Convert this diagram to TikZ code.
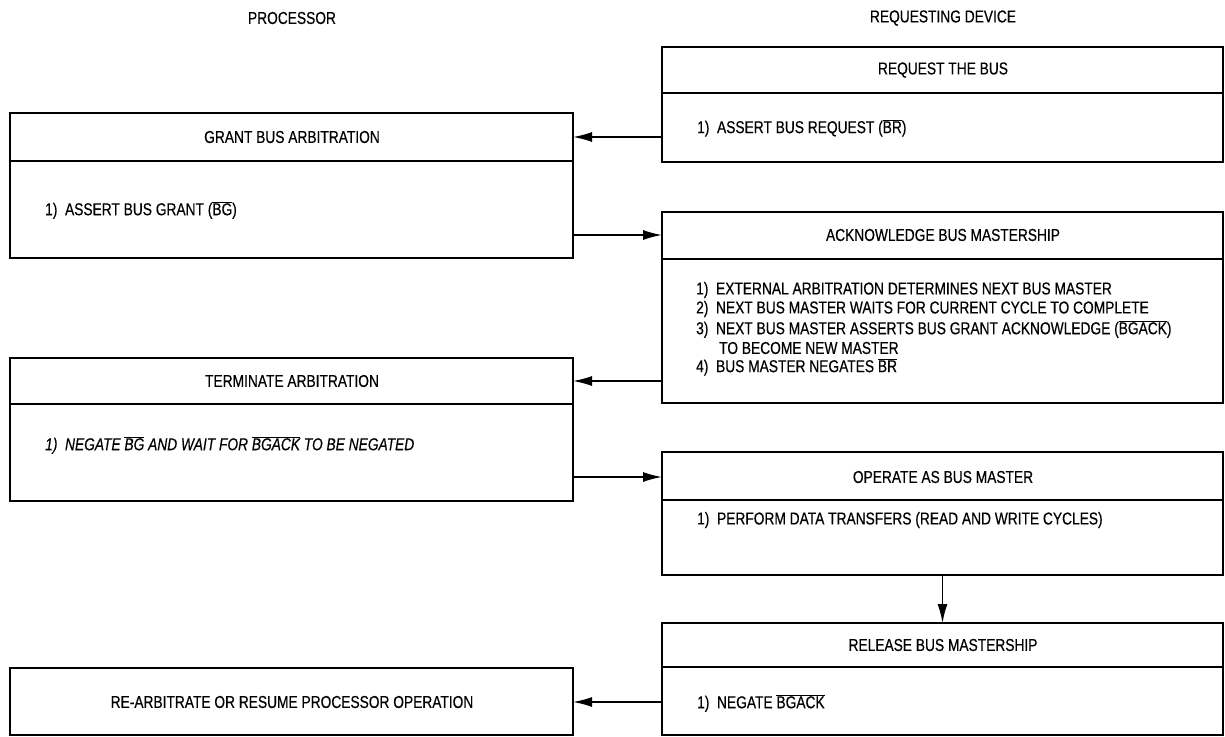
\documentclass[tikz,border=0pt]{standalone}
\usepackage{fontspec}
\setmainfont{Liberation Sans}[FakeStretch=0.8,FakeBold=0.4]
\usetikzlibrary{arrows.meta}
\newcommand{\ovl}[1]{\ensuremath{\overline{\mbox{#1}}}}
\tikzset{
  box/.style={draw, line width=2.6pt, rectangle, inner sep=0pt, outer sep=0pt, anchor=north west},
  divl/.style={line width=2pt},
  arr/.style={line width=1.5pt, -{Latex[length=19pt,width=10pt]}},
  ttl/.style={font=\fontsize{17.2}{20}\selectfont, inner sep=0pt},
  body/.style={font=\fontsize{17.2}{20}\selectfont, inner sep=0pt, anchor=west},
}
\begin{document}
\begin{tikzpicture}[x=1pt,y=-1pt]
\useasboundingbox (0,0) rectangle (1225,736);
% headers
\node[ttl] (hp) at (292,18) {PROCESSOR};
\node[ttl] (hr) at (943,18) {REQUESTING DEVICE};
% boxes
\node[box, minimum width=561pt, minimum height=115pt] (req) at (662,47) {};
\node[box, minimum width=563pt, minimum height=145pt] (grant) at (10,113) {};
\node[box, minimum width=561pt, minimum height=191pt] (ack) at (662,212) {};
\node[box, minimum width=563pt, minimum height=143pt] (term) at (10,358) {};
\node[box, minimum width=561pt, minimum height=123pt] (oper) at (662,452) {};
\node[box, minimum width=561pt, minimum height=112pt] (rel) at (662,623) {};
\node[box, minimum width=563pt, minimum height=67pt] (rearb) at (10,668) {};
% dividers
\draw[divl] (req.west |- 0,93) -- (req.east |- 0,93);
\draw[divl] (grant.west |- 0,161) -- (grant.east |- 0,161);
\draw[divl] (ack.west |- 0,259) -- (ack.east |- 0,259);
\draw[divl] (term.west |- 0,404) -- (term.east |- 0,404);
\draw[divl] (oper.west |- 0,500) -- (oper.east |- 0,500);
\draw[divl] (rel.west |- 0,667) -- (rel.east |- 0,667);
% titles
\node[ttl] (reqT) at (943,70) {REQUEST THE BUS};
\node[ttl] (grantT) at (292,137) {GRANT BUS ARBITRATION};
\node[ttl] (ackT) at (943,235) {ACKNOWLEDGE BUS MASTERSHIP};
\node[ttl] (termT) at (292,381) {TERMINATE ARBITRATION};
\node[ttl] (operT) at (943,477) {OPERATE AS BUS MASTER};
\node[ttl] (relT) at (943,645) {RELEASE BUS MASTERSHIP};
\node[ttl] (rearbT) at (292,702) {RE-ARBITRATE OR RESUME PROCESSOR OPERATION};
% bodies
\node[body] (reqB) at (697,128) {1)\ \ ASSERT BUS REQUEST (\ovl{BR})};
\node[body] (grantB) at (45,210) {1)\ \ ASSERT BUS GRANT (\ovl{BG})};
\node[body] (ack1) at (696,290) {1)\ \ EXTERNAL ARBITRATION DETERMINES NEXT BUS MASTER};
\node[body] (ack2) at (696,309) {2)\ \ NEXT BUS MASTER WAITS FOR CURRENT CYCLE TO COMPLETE};
\node[body] (ack3) at (696,329) {3)\ \ NEXT BUS MASTER ASSERTS BUS GRANT ACKNOWLEDGE (\ovl{BGACK})};
\node[body] (ack4) at (719,348) {TO BECOME NEW MASTER};
\node[body] (ack5) at (696,367) {4)\ \ BUS MASTER NEGATES \ovl{BR}};
\node[body, font=\fontsize{17.2}{20}\selectfont\itshape] (termB) at (45,445) {1)\ \ NEGATE \ovl{BG} AND WAIT FOR \ovl{BGACK} TO BE NEGATED};
\node[body] (operB) at (697,520) {1)\ \ PERFORM DATA TRANSFERS (READ AND WRITE CYCLES)};
\node[body] (relB) at (697,703) {1)\ \ NEGATE \ovl{BGACK}};
% connectors
\draw[arr] (req.west |- grantT) -- (grant.east |- grantT);
\draw[arr] (grant.east |- ackT) -- (ack.west |- ackT);
\draw[arr] (ack.west |- termT) -- (term.east |- termT);
\draw[arr] (term.east |- operT) -- (oper.west |- operT);
\draw[arr] (oper.south) -- (rel.north);
\draw[arr] (rel.west |- rearbT) -- (rearb.east |- rearbT);
\end{tikzpicture}
\end{document}
